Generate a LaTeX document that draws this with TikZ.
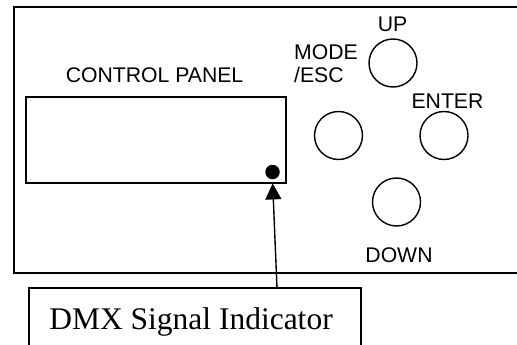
\documentclass[tikz,border=0pt]{standalone}
\usepackage{fontspec}
\setmainfont{Liberation Serif}
\setsansfont{Liberation Sans}
\usetikzlibrary{positioning,arrows.meta}

\tikzset{
  panellabel/.style={font=\sffamily\fontsize{21.2}{23.3}\selectfont, inner sep=0pt},
  keybtn/.style={draw, circle, line width=1.4pt, minimum size=48pt, inner sep=0pt},
  frame/.style={draw, line width=1.4pt}
}

\begin{document}
\begin{tikzpicture}[x=1pt,y=-1pt]
\useasboundingbox (0,0) rectangle (517,345);
% housing
\draw[frame] (530,7) -- (14,7) -- (14,273) -- (530,273);
% display window
\node[frame, minimum width=260pt, minimum height=86pt, inner sep=0pt] (display) at (156,140) {};
\node[panellabel, anchor=base] (title) at (154.5,82.7) {CONTROL PANEL};
\node[circle, fill=black, minimum size=14.5pt, inner sep=0pt] (led) at (272.5,172) {};
% keys
\node[keybtn] (up) at (393,63) {};
\node[keybtn] (mode) at (338.5,135.5) {};
\node[keybtn] (enter) at (444,135.5) {};
\node[keybtn] (down) at (396.5,202) {};
\node[panellabel, anchor=base] (uplbl) at (392.5,32) {UP};
\node[panellabel, anchor=base west, align=left] (modelbl) at (294,82.7) {MODE\\/ESC};
\node[panellabel, anchor=base] (enterlbl) at (447.5,108) {ENTER};
\node[panellabel, anchor=base] (downlbl) at (399,262) {DOWN};
% indicator callout
\node[frame, minimum width=332pt, minimum height=80pt, inner sep=0pt] (sigbox) at (195,328) {};
\node[font=\fontsize{31.5}{36}\selectfont, anchor=base, inner sep=0pt] (sigtext) at (191,329) {DMX Signal Indicator};
\coordinate (feed) at (277,288);
\draw[line width=1.4pt, -{Triangle[width=16pt,length=16pt]}, shorten >=4pt] (feed) -- (led.south);
\end{tikzpicture}
\end{document}
